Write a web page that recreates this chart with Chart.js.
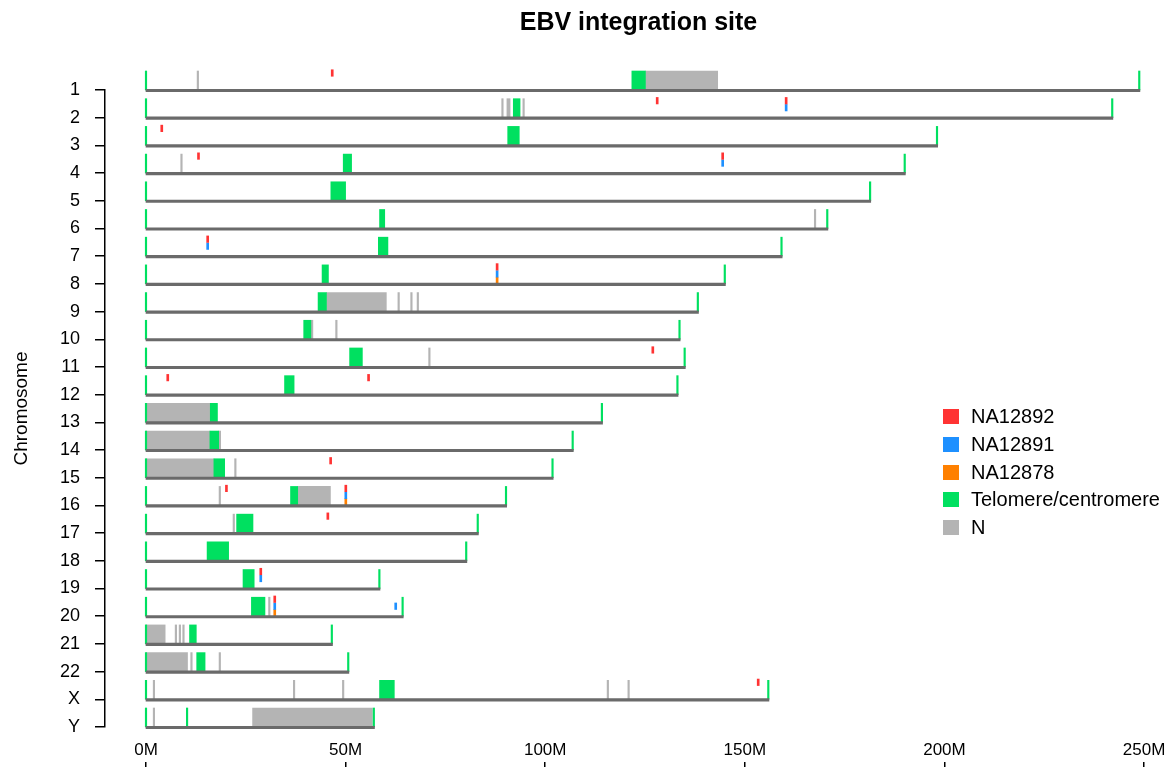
<!DOCTYPE html>
<html>
<head>
<meta charset="utf-8">
<title>EBV integration site</title>
<script src="https://cdn.jsdelivr.net/npm/chart.js@4.4.1/dist/chart.umd.min.js"></script>
<style>
  body { margin: 0; background: #fff; }
  #wrap { position: relative; width: 1172px; height: 767px; }
  #legend { position: absolute; left: 943px; top: 403px; font: 20px 'Liberation Sans', Arial, sans-serif; color: #000; }
  #legend .row { height: 27.7px; display: flex; align-items: center; }
  #legend .box { display: inline-block; width: 16px; height: 15px; margin-right: 12px; }
</style>
</head>
<body>
<div id="wrap">
  <canvas id="chart" width="1172" height="767"></canvas>
  <div id="legend"></div>
</div>
<script>
// chromosomes and their length (Mb, hg38)
const chromNames = ["1", "2", "3", "4", "5", "6", "7", "8", "9", "10", "11", "12",
  "13", "14", "15", "16", "17", "18", "19", "20", "21", "22", "X", "Y"];
const chromLengths = [248.96, 242.19, 198.3, 190.21, 181.54, 170.81, 159.35, 145.14, 138.39, 133.8, 135.09, 133.28,
  114.36, 107.04, 101.99, 90.34, 83.26, 80.37, 58.62, 64.44, 46.71, 50.82, 156.04, 57.23];

// centromere (green block) per chromosome, Mb
const cenStart = [121.7, 92.0, 90.6, 49.4, 46.3, 58.5, 58.2, 44.1, 43.1, 39.5, 51.0, 34.7,
  16.1, 16.0, 17.0, 36.2, 22.7, 15.3, 24.3, 26.4, 10.9, 12.7, 58.5, 10.1];
const cenEnd = [125.1, 93.7, 93.5, 51.5, 50.0, 59.8, 60.6, 45.7, 45.2, 41.3, 54.2, 37.1,
  17.9, 18.2, 19.7, 38.0, 26.8, 20.7, 27.1, 29.8, 12.6, 14.8, 62.2, 10.2];

// N regions (gaps)
const gapChrom = ["1", "1", "2", "2", "2", "4", "6", "9", "9", "9", "9", "10", "10", "11",
  "13", "14", "14", "15", "15", "16", "16", "17", "20", "21", "21", "21", "21",
  "22", "22", "22", "X", "X", "X", "X", "X", "Y", "Y"];
const gapStart = [12.8, 125.1, 89.1, 90.4, 94.4, 8.7, 167.4, 45.2, 63.1, 66.3, 67.9, 41.3, 47.5, 70.8,
  0, 0, 18.2, 0, 22.2, 18.3, 38.0, 21.8, 30.7, 0, 7.3, 8.3, 9.2,
  0, 11.2, 18.3, 1.8, 36.9, 49.2, 115.5, 120.7, 1.8, 26.7];
const gapEnd = [12.9, 143.2, 89.2, 91.2, 94.5, 8.8, 167.5, 60.2, 63.2, 66.4, 68.0, 41.8, 47.6, 70.9,
  16.1, 16.0, 18.7, 17.0, 22.3, 18.4, 46.2, 21.9, 30.8, 4.8, 7.4, 8.4, 9.3,
  10.4, 11.3, 18.4, 1.9, 37.0, 49.3, 115.6, 120.8, 1.9, 56.7];

// EBV integration sites per sample
const na12892Chrom = ["1", "2", "2", "3", "4", "4", "7", "8", "11", "12", "12", "15", "16", "16", "17", "19", "20", "X"];
const na12892Pos = [46.9, 128.3, 160.6, 4.2, 13.4, 144.7, 15.7, 88.2, 127.2, 5.7, 56.0, 46.5, 20.4, 50.3, 45.8, 29.0, 32.5, 153.6];
const na12891Chrom = ["2", "4", "7", "8", "16", "19", "20", "20"];
const na12891Pos = [160.6, 144.7, 15.7, 88.2, 50.3, 29.0, 32.5, 62.8];
const na12878Chrom = ["8", "16", "20"];
const na12878Pos = [88.2, 50.3, 32.5];

const xTicks = [0, 50, 100, 150, 200, 250];

// pixel distance between two chromosome rows, used to lift the boxes above the line
const rowPx = 27.7;
const up = (px) => px / rowPx;
const row = (name) => chromNames.indexOf(name);

const lineData = chromNames.map((c, i) => ({ x: [0, chromLengths[i]], y: i + up(0.5) }));

const greenData = [];
chromNames.forEach((c, i) => {
  greenData.push({ x: [0, 0], y: i - up(9.5) });
  greenData.push({ x: [chromLengths[i] - 0.35, chromLengths[i]], y: i - up(9.5) });
  greenData.push({ x: [cenStart[i], cenEnd[i]], y: i - up(9.5) });
});

const gapData = gapChrom.map((c, i) => ({ x: [gapStart[i], gapEnd[i]], y: row(c) - up(9.5) }));

function sites(chroms, pos, lift) {
  return chroms.map((c, i) => ({ x: [pos[i], pos[i]], y: row(c) - up(lift) }));
}

const ctx = document.getElementById("chart").getContext("2d");
Chart.defaults.font.family = "'Liberation Sans', Arial, sans-serif";
Chart.defaults.color = "#000";

const xMin = -10.27, xMax = 257.0;

const chart = new Chart(ctx, {
  type: "bar",
  data: {
    datasets: [
      { label: "chromosome", data: lineData, backgroundColor: "#6a6a6a", barThickness: 2.5 },
      { label: "NA12892", data: sites(na12892Chrom, na12892Pos, 17), backgroundColor: "#ff3333", barThickness: 6.5, minBarLength: 2 },
      { label: "NA12891", data: sites(na12891Chrom, na12891Pos, 10), backgroundColor: "#1e90ff", barThickness: 6.5, minBarLength: 2 },
      { label: "NA12878", data: sites(na12878Chrom, na12878Pos, 3.5), backgroundColor: "#ff8000", barThickness: 6.5, minBarLength: 2 },
      { label: "Telomere/centromere", data: greenData, backgroundColor: "#00e060", barThickness: 19, minBarLength: 1.5 },
      { label: "N", data: gapData, backgroundColor: "#b4b4b4", barThickness: 19, minBarLength: 1.5 },
    ],
  },
  options: {
    indexAxis: "y",
    responsive: false,
    animation: false,
    devicePixelRatio: 1,
    layout: { padding: 0 },
    datasets: { bar: { grouped: false, clip: false, borderWidth: 0 } },
    plugins: {
      legend: { display: false },
      tooltip: { enabled: false },
      title: {
        display: true,
        text: "EBV integration site",
        fullSize: false,
        font: { size: 25, weight: "bold" },
        color: "#000",
        padding: { top: 8, bottom: 52 },
      },
    },
    scales: {
      x: {
        type: "linear",
        min: xMin,
        max: xMax,
        grid: { display: false, drawTicks: false },
        border: { display: false },
        afterBuildTicks: (s) => { s.ticks = xTicks.map((v) => ({ value: v })); },
        ticks: { callback: (v) => v + "M", font: { size: 17, lineHeight: 2.7 }, padding: 0, maxRotation: 0, autoSkip: false },
        afterFit: (s) => { s.height = 35; },
      },
      x2: {
        type: "linear",
        position: "bottom",
        display: true,
        weight: 1,
        min: xMin,
        max: xMax,
        grid: { drawOnChartArea: false, drawTicks: true, tickLength: 6, color: "#000", tickColor: "#000", lineWidth: 1.5 },
        border: { display: false },
        afterBuildTicks: (s) => { s.ticks = xTicks.map((v) => ({ value: v })); },
        ticks: { display: false },
        afterFit: (s) => { s.height = 5; },
      },
      y: {
        type: "linear",
        min: 0,
        max: chromNames.length - 1,
        reverse: true,
        offset: false,
        afterBuildTicks: (s) => { s.ticks = chromNames.map((c, i) => ({ value: i })); },
        ticks: { callback: (v) => chromNames[v], font: { size: 18 }, padding: 15, autoSkip: false },
        grid: { offset: false, drawOnChartArea: false, tickLength: 10, color: "#000", lineWidth: 1.5 },
        border: { display: true, color: "#000", width: 1.5 },
        title: { display: true, text: "Chromosome", font: { size: 19 }, padding: { top: 10 } },
        afterFit: (s) => { s.width = 105; },
      },
    },
  },
});

// legend from the datasets (the chromosome line is not listed)
const legendEl = document.getElementById("legend");
chart.data.datasets.slice(1).forEach((ds) => {
  const item = document.createElement("div");
  item.className = "row";
  item.innerHTML = `<span class="box" style="background:${ds.backgroundColor}"></span>${ds.label}`;
  legendEl.appendChild(item);
});
</script>
</body>
</html>
